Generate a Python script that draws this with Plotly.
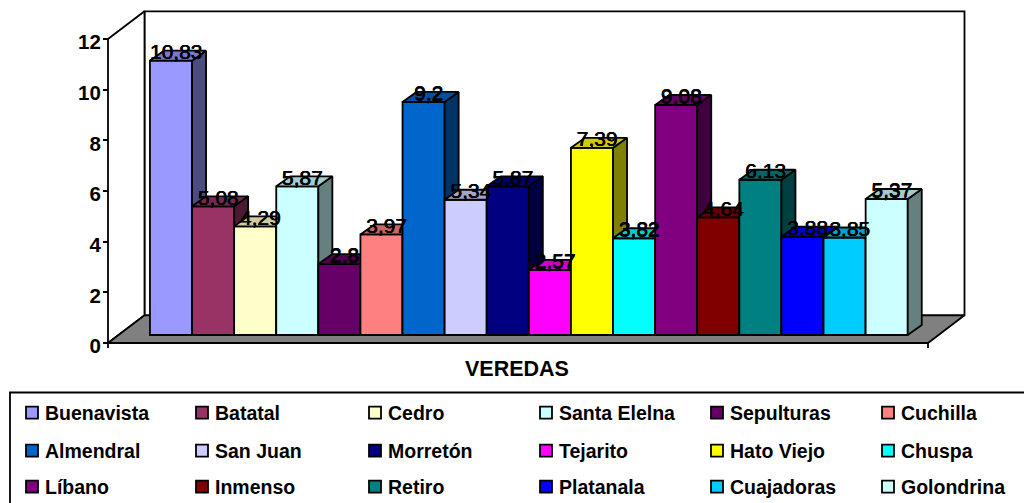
import plotly.graph_objects as go

veredas = ["Buenavista", "Batatal", "Cedro", "Santa Elelna", "Sepulturas", "Cuchilla",
           "Almendral", "San Juan", "Morretón", "Tejarito", "Hato Viejo", "Chuspa",
           "Líbano", "Inmenso", "Retiro", "Platanala", "Cuajadoras", "Golondrina"]
valores = [10.83, 5.08, 4.29, 5.87, 2.8, 3.97, 9.2, 5.34, 5.87, 2.57, 7.39, 3.82,
           9.08, 4.64, 6.13, 3.88, 3.85, 5.37]
colores = ["#9999FF", "#993366", "#FFFFCC", "#CCFFFF", "#660066", "#FF8080",
           "#0066CC", "#CCCCFF", "#000080", "#FF00FF", "#FFFF00", "#00FFFF",
           "#800080", "#800000", "#008080", "#0000FF", "#00CCFF", "#CCFFFF"]
y_ticks = [0, 2, 4, 6, 8, 10, 12]

W, H = 1024, 503
PX_X = 42.1      # pixels per category
PX_Y = 25.33     # pixels per value unit
X_C0 = 171.0     # pixel of the first category
Y_0 = 343.0      # pixel of value 0
x_range = [(0 - X_C0) / PX_X, (W - X_C0) / PX_X]
y_range = [(Y_0 - H) / PX_Y, Y_0 / PX_Y]
AX_L = (108 - X_C0) / PX_X
AX_R = (928 - X_C0) / PX_X
DX = 36.5 / PX_X
DY = 27.7 / PX_Y
BDX = 14.0 / PX_X
BDY = 10.0 / PX_Y
BASE = 8.0 / PX_Y
LABEL_DX = 5.0 / PX_X
LABEL_DY = 7.0 / PX_Y
TICK = 5.0 / PX_Y
LW = 1.8
FAM = "Liberation Sans, Arial, sans-serif"
LEG_X = [12, 182, 355, 526, 697, 868]   # left edge of each legend column, px
LEG_Y = [413, 451, 487]                 # middle of each legend row, px


def shade(hex_color, f):
    r, g, b = [int(hex_color[i:i + 2], 16) for i in (1, 3, 5)]
    return f"rgb({int(r * f)},{int(g * f)},{int(b * f)})"


def poly(xs, ys, fill, yaxis="y"):
    return go.Scatter(x=xs, y=ys, mode="lines", fill="toself", fillcolor=fill,
                      line=dict(color="black", width=LW), hoverinfo="skip",
                      showlegend=False, yaxis=yaxis)


def legend_key(i):
    return "legend" if i == 0 else f"legend{i + 1}"


fig = go.Figure()
top_wall = max(y_ticks)
# walls and floor
fig.add_trace(poly([AX_L + DX, AX_R + DX, AX_R + DX, AX_L + DX, AX_L + DX],
                   [DY, DY, top_wall + DY, top_wall + DY, DY], "white"))
fig.add_trace(poly([AX_L, AX_L + DX, AX_L + DX, AX_L, AX_L],
                   [0, DY, top_wall + DY, top_wall, 0], "white"))
fig.add_trace(poly([AX_L, AX_R, AX_R + DX, AX_L + DX, AX_L],
                   [0, 0, DY, DY, 0], "#808080"))
# x axis end ticks
for xt in (AX_L, AX_R):
    fig.add_trace(go.Scatter(x=[xt, xt], y=[0, -TICK], mode="lines",
                             line=dict(color="black", width=LW),
                             hoverinfo="skip", showlegend=False))

for i, (name, v, c) in enumerate(zip(veredas, valores, colores)):
    ya = f"y{i + 2}"
    l, r = i - 0.5, i + 0.5
    t = BASE + v
    fig.add_trace(go.Bar(x=[i], y=[v], base=BASE, width=1, name=name,
                         marker=dict(color=c, line=dict(color="black", width=LW)),
                         yaxis=ya, showlegend=True, legend=legend_key(i),
                         hovertemplate=name + ": %{y}<extra></extra>"))
    fig.add_trace(poly([r, r + BDX, r + BDX, r, r],
                       [BASE, BASE + BDY, t + BDY, t, BASE], shade(c, 0.5), ya))
    fig.add_trace(poly([l, r, r + BDX, l + BDX, l],
                       [t, t, t + BDY, t + BDY, t], shade(c, 0.8), ya))

# value labels on the top layer
label_axis = f"y{len(veredas) + 2}"
fig.add_trace(go.Scatter(x=[i + LABEL_DX for i in range(len(valores))],
                         y=[v + BASE + LABEL_DY for v in valores],
                         mode="text",
                         text=[str(v).replace(".", ",") for v in valores],
                         textposition="middle center",
                         textfont=dict(family=FAM, size=21, color="black",
                                       shadow="0.5px 0 0 black, 0 0.4px 0 black"),
                         hoverinfo="skip", showlegend=False, yaxis=label_axis,
                         cliponaxis=False))

layout = dict(
    width=W, height=H, margin=dict(l=0, r=0, t=0, b=0, autoexpand=False),
    paper_bgcolor="white", plot_bgcolor="white", barmode="overlay",
    separators=",.",
    font=dict(family=FAM, color="black"),
    xaxis=dict(range=x_range, visible=False, domain=[0, 1], fixedrange=True),
    yaxis=dict(range=y_range, domain=[0, 1], anchor="free", position=108 / W,
               tickvals=y_ticks, ticks="outside", ticklen=5, tickwidth=1.6,
               tickcolor="black", showline=False, showgrid=False, zeroline=False,
               ticklabelshift=3, ticklabelstandoff=-2,
               tickfont=dict(family=FAM, size=20.5, color="black", weight="bold"),
               fixedrange=True),
    annotations=[dict(text="<b>VEREDAS</b>", xref="paper", yref="paper",
                      x=517 / W, y=1 - 369 / H, yanchor="middle", showarrow=False,
                      font=dict(family=FAM, size=21.5, color="black"))],
    shapes=[dict(type="rect", xref="paper", yref="paper",
                 x0=10 / W, x1=1030 / W, y0=1 - 392.5 / H, y1=-0.02,
                 line=dict(color="black", width=1.8), fillcolor="rgba(0,0,0,0)")],
)
for n in range(2, len(veredas) + 3):
    layout[f"yaxis{n}"] = dict(range=y_range, overlaying="y", visible=False,
                               fixedrange=True)
for i in range(len(veredas)):
    layout[legend_key(i)] = dict(orientation="v",
                                 x=LEG_X[i % 6] / W, xanchor="left",
                                 y=1 - LEG_Y[i // 6] / H, yanchor="middle",
                                 indentation=-7,
                                 itemclick=False, itemdoubleclick=False,
                                 font=dict(family=FAM, size=19.5, color="black",
                                           weight="bold"),
                                 bgcolor="rgba(0,0,0,0)")
fig.update_layout(**layout)

fig.write_html("out.html", config=dict(displayModeBar=False),
               post_script="document.body.style.margin='0';"
                           "var s=document.createElement('style');"
                           "s.textContent='.legendpoints{translate:7px 0;}';"
                           "document.head.appendChild(s);")
